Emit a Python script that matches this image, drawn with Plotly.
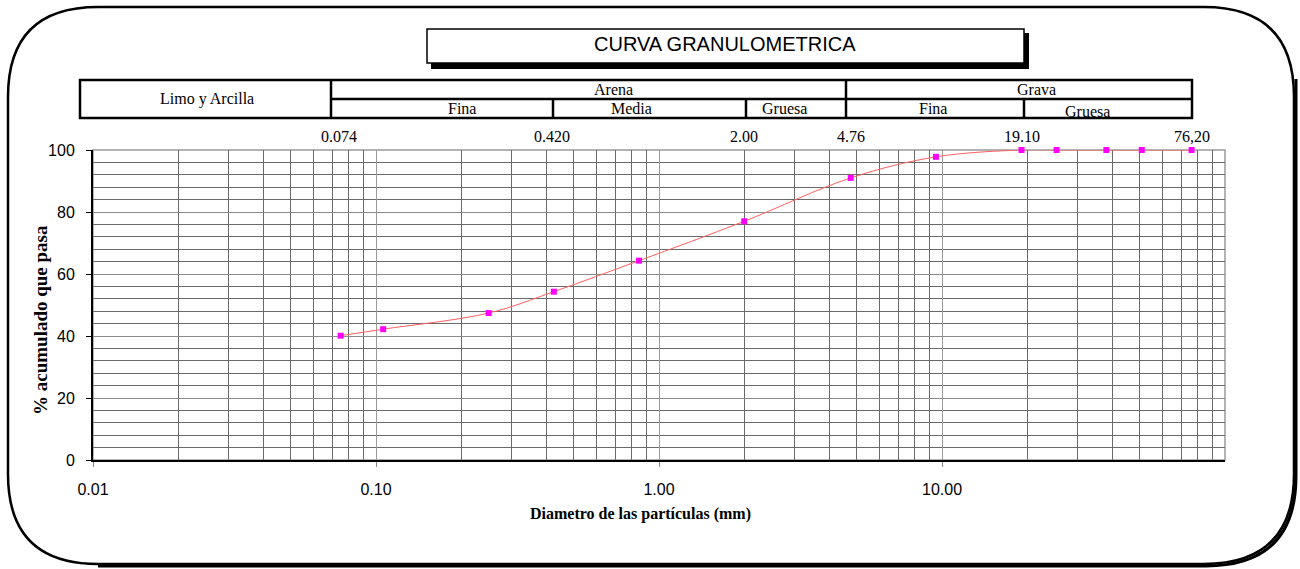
import math
import plotly.graph_objects as go

# Sieve analysis: particle diameter (mm) vs cumulative percent passing
diametro_mm = [0.075, 0.106, 0.25, 0.425, 0.85, 2.00, 4.76, 9.52, 19.10, 25.40, 38.10, 50.80, 76.20]
pct_pasa = [40.1, 42.2, 47.4, 54.3, 64.3, 77.0, 91.0, 97.8, 100.0, 100.0, 100.0, 100.0, 100.0]

# Reference sieve sizes written above the grid
tamiz_valores = [0.074, 0.420, 2.00, 4.76, 19.10, 76.20]
tamiz_textos = ["0.074", "0.420", "2.00", "4.76", "19.10", "76,20"]

x_tick_vals = [0.01, 0.1, 1, 10]
x_tick_text = ["0.01", "0.10", "1.00", "10.00"]

W, H = 1300, 569
PL, PR, PT, PB = 93, 1225, 150, 460  # plot area in pixels

SERIF = "Times New Roman, Liberation Serif, serif"
SANS = "Arial, Liberation Sans, sans-serif"


def fx(p):
    return (p - PL) / (PR - PL)


def fy(p):
    return (PB - p) / (PB - PT)


fig = go.Figure()
fig.add_trace(go.Scatter(
    x=diametro_mm, y=pct_pasa, mode="lines+markers",
    line=dict(color="#ff6060", width=1, shape="spline", smoothing=1.0),
    marker=dict(symbol="square", size=6, color="#ff00ff"),
    showlegend=False, hoverinfo="x+y", cliponaxis=False,
))

# Minor vertical gridlines at 2..9 x 10^n
minor_x = [k * 10 ** e for e in range(-2, 2) for k in range(2, 10)]

shapes = []

# Rounded outer frame
x0, x1, y0, y1, r = 8, 1294, 7, 564, 90


def pth(points):
    return " ".join(points)


def P(cmd, *xy):
    out = cmd
    for i in range(0, len(xy), 2):
        out += f" {fx(xy[i]):.5f},{fy(xy[i + 1]):.5f}"
    return out


frame = pth([
    P("M", x0 + r, y0), P("L", x1 - r, y0), P("Q", x1, y0, x1, y0 + r),
    P("L", x1, y1 - r), P("Q", x1, y1, x1 - r, y1), P("L", x0 + r, y1),
    P("Q", x0, y1, x0, y1 - r), P("L", x0, y0 + r), P("Q", x0, y0, x0 + r, y0), "Z",
])
shapes.append(dict(type="path", path=frame, xref="paper", yref="paper",
                   line=dict(color="black", width=2.5)))
# Heavier right/bottom edge
s = 2
shadow = pth([
    P("M", x1 + s, y0 + r * 0.8), P("L", x1 + s, y1 - r + s),
    P("Q", x1 + s, y1 + s, x1 - r + s, y1 + s), P("L", x0 + r, y1 + s),
])
shapes.append(dict(type="path", path=shadow, xref="paper", yref="paper",
                   line=dict(color="black", width=3)))

# Title box with drop shadow
shapes.append(dict(type="rect", xref="paper", yref="paper",
                   x0=fx(431), x1=fx(1029), y0=fy(69), y1=fy(33),
                   fillcolor="black", line=dict(width=0)))
shapes.append(dict(type="rect", xref="paper", yref="paper",
                   x0=fx(427), x1=fx(1024), y0=fy(63), y1=fy(29),
                   fillcolor="white", line=dict(color="black", width=1.5)))

# Soil classification header table
tbl = dict(color="black", width=2.5)
shapes.append(dict(type="rect", xref="paper", yref="paper",
                   x0=fx(80), x1=fx(1192), y0=fy(118), y1=fy(80), line=tbl))
for xv in (331, 846):
    shapes.append(dict(type="line", xref="paper", yref="paper",
                       x0=fx(xv), x1=fx(xv), y0=fy(118), y1=fy(80), line=tbl))
shapes.append(dict(type="line", xref="paper", yref="paper",
                   x0=fx(331), x1=fx(1192), y0=fy(99), y1=fy(99), line=tbl))
for xv in (553, 746, 1024):
    shapes.append(dict(type="line", xref="paper", yref="paper",
                       x0=fx(xv), x1=fx(xv), y0=fy(118), y1=fy(99), line=tbl))

# Plot-area border (top/right grey)
shapes.append(dict(type="rect", xref="paper", yref="paper", x0=0, x1=1, y0=0, y1=1,
                   line=dict(color="#9a9a9a", width=1.5), layer="below"))

annotations = []


def txt(text, x, y, size=16, family=SERIF, bold=False, **kw):
    annotations.append(dict(
        text=f"<b>{text}</b>" if bold else text, x=fx(x), y=fy(y),
        xref="paper", yref="paper", showarrow=False,
        xanchor="center", yanchor="middle",
        font=dict(family=family, size=size, color="black"), **kw))


txt("CURVA GRANULOMETRICA", 725, 44, size=20, family=SANS)
txt("Limo y Arcilla", 207, 99, size=16)
txt("Arena", 613, 90, size=16)
txt("Grava", 1036, 90, size=16)
txt("Fina", 462, 109, size=16)
txt("Media", 631, 109, size=16)
txt("Gruesa", 784, 109, size=16)
txt("Fina", 933, 109, size=16)
txt("Gruesa", 1087, 111, size=16)
txt("Diametro de las partículas (mm)", 640, 514, size=16, bold=True)
txt("% acumulado que pasa", 40, 320, size=19, bold=True, textangle=-90)

for v, t in zip(tamiz_valores, tamiz_textos):
    annotations.append(dict(
        text=t, x=math.log10(v), y=fy(136), xref="x", yref="paper",
        showarrow=False, xanchor="center", yanchor="middle",
        font=dict(family=SERIF, size=16, color="black")))

fig.update_layout(
    width=W, height=H,
    margin=dict(l=PL, r=W - PR, t=PT, b=H - PB, autoexpand=False),
    paper_bgcolor="white", plot_bgcolor="white",
    shapes=shapes, annotations=annotations,
    xaxis=dict(
        type="log", range=[-2, 2], tickvals=x_tick_vals, ticktext=x_tick_text,
        ticks="outside", ticklen=5, tickcolor="#888", tickwidth=1,
        ticklabelstandoff=9,
        showgrid=True, gridcolor="#9a9a9a", gridwidth=1,
        minor=dict(tickvals=minor_x, showgrid=True, gridcolor="#6a6a6a",
                   gridwidth=1, ticks=""),
        showline=True, linecolor="black", linewidth=2,
        tickfont=dict(family=SANS, size=16, color="black"),
        zeroline=False, automargin=False, fixedrange=True,
    ),
    yaxis=dict(
        range=[0, 100], tickvals=[0, 20, 40, 60, 80, 100],
        ticks="outside", ticklen=5, tickcolor="black", tickwidth=1,
        ticklabelstandoff=8,
        showgrid=True, gridcolor="#8a8a8a", gridwidth=1,
        minor=dict(dtick=4, showgrid=True, gridcolor="#6a6a6a", gridwidth=1, ticks=""),
        showline=True, linecolor="black", linewidth=2,
        tickfont=dict(family=SANS, size=16, color="black"),
        zeroline=False, automargin=False, fixedrange=True,
    ),
)

fig.write_html("out.html")
